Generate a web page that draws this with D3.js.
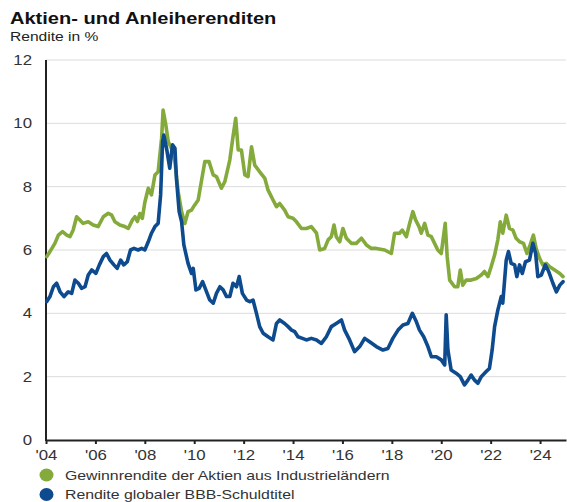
<!DOCTYPE html>
<html>
<head>
<meta charset="utf-8">
<script src="https://cdn.jsdelivr.net/npm/d3@7"></script>
<style>
  html, body { margin: 0; padding: 0; background: #ffffff; }
  svg { display: block; }
  text { font-family: "Liberation Sans", Arial, Helvetica, sans-serif; }
</style>
</head>
<body>
<svg id="chart" width="567" height="502"></svg>
<script>
// ---------- DATA ----------
const title = "Aktien- und Anleiherenditen";
const subtitle = "Rendite in %";
const seriesNames = ["Gewinnrendite der Aktien aus Industrieländern", "Rendite globaler BBB-Schuldtitel"];
const seriesColors = ["#84aa3c", "#0d4a8e"];

const yTicks = [0, 2, 4, 6, 8, 10, 12];
const xTicks = [2004, 2006, 2008, 2010, 2012, 2014, 2016, 2018, 2020, 2022, 2024];
const xTickLabels = ["'04", "'06", "'08", "'10", "'12", "'14", "'16", "'18", "'20", "'22", "'24"];

// Equity earnings yield, developed markets (decimal years)
const equityYears = [2004.03,2004.16,2004.36,2004.5,2004.67,2004.84,2004.97,2005.1,2005.24,2005.37,2005.5,2005.71,2005.91,2006.11,2006.32,2006.52,2006.66,2006.79,2006.99,2007.19,2007.33,2007.5,2007.6,2007.7,2007.8,2007.9,2008.0,2008.14,2008.27,2008.41,2008.54,2008.68,2008.74,2008.85,2008.95,2009.08,2009.22,2009.35,2009.49,2009.62,2009.75,2009.89,2010.0,2010.16,2010.3,2010.43,2010.6,2010.77,2010.9,2011.1,2011.24,2011.44,2011.57,2011.68,2011.78,2011.91,2012.05,2012.18,2012.32,2012.45,2012.65,2012.86,2012.99,2013.19,2013.33,2013.46,2013.66,2013.8,2014.0,2014.14,2014.34,2014.54,2014.74,2014.95,2015.08,2015.28,2015.42,2015.55,2015.66,2015.75,2015.89,2016.02,2016.16,2016.36,2016.56,2016.77,2016.97,2017.17,2017.37,2017.71,2017.98,2018.11,2018.31,2018.42,2018.59,2018.72,2018.85,2018.96,2019.1,2019.19,2019.33,2019.46,2019.6,2019.73,2019.86,2020.0,2020.16,2020.24,2020.34,2020.54,2020.67,2020.77,2020.87,2021.01,2021.21,2021.42,2021.62,2021.75,2021.89,2022.02,2022.16,2022.29,2022.39,2022.49,2022.63,2022.76,2022.9,2023.03,2023.17,2023.33,2023.47,2023.6,2023.73,2023.84,2023.98,2024.11,2024.25,2024.39,2024.59,2024.8,2024.93];
const equityYield = [5.79,5.95,6.21,6.47,6.58,6.47,6.42,6.63,7.05,6.95,6.84,6.89,6.79,6.74,7.05,7.16,7.1,6.89,6.79,6.74,6.68,6.95,7.05,6.9,7.15,7.0,7.5,7.95,7.74,8.37,8.47,9.53,10.42,9.95,9.42,9.21,8.79,7.84,7.21,6.84,7.21,7.26,7.4,7.58,8.21,8.79,8.79,8.37,8.32,7.95,8.16,8.84,9.58,10.16,9.16,9.16,8.37,8.32,9.26,8.68,8.47,8.26,7.89,7.58,7.37,7.47,7.26,7.05,7.0,6.89,6.68,6.68,6.74,6.53,6.0,6.05,6.32,6.42,6.79,6.42,6.26,6.68,6.37,6.21,6.21,6.37,6.16,6.05,6.05,6.0,5.89,6.53,6.53,6.63,6.42,6.84,7.21,6.95,6.74,6.53,6.84,6.47,6.42,6.21,6.0,5.89,6.84,5.79,5.05,4.84,4.84,5.37,4.89,5.05,5.05,5.1,5.21,5.32,5.16,5.47,5.84,6.32,6.89,6.53,7.1,6.68,6.63,6.37,6.26,6.21,5.89,6.16,6.47,6.05,5.74,5.53,5.58,5.47,5.37,5.26,5.16];

// Global BBB corporate bond yield (decimal years)
const bondYears = [2004.03,2004.16,2004.3,2004.43,2004.57,2004.73,2004.9,2005.04,2005.17,2005.31,2005.44,2005.58,2005.71,2005.85,2006.02,2006.16,2006.32,2006.45,2006.59,2006.75,2006.88,2007.02,2007.15,2007.29,2007.42,2007.56,2007.73,2007.87,2008.0,2008.14,2008.27,2008.41,2008.54,2008.64,2008.72,2008.77,2008.88,2009.01,2009.12,2009.22,2009.28,2009.39,2009.49,2009.58,2009.75,2009.89,2009.96,2010.07,2010.2,2010.34,2010.5,2010.63,2010.77,2010.9,2011.04,2011.17,2011.31,2011.44,2011.57,2011.71,2011.82,2011.95,2012.12,2012.25,2012.38,2012.52,2012.65,2012.79,2012.99,2013.19,2013.33,2013.46,2013.66,2013.8,2013.94,2014.07,2014.2,2014.38,2014.54,2014.74,2014.95,2015.15,2015.35,2015.55,2015.75,2015.96,2016.09,2016.29,2016.49,2016.7,2016.9,2017.1,2017.37,2017.64,2017.84,2018.04,2018.25,2018.45,2018.65,2018.83,2018.99,2019.12,2019.29,2019.46,2019.6,2019.8,2020.0,2020.14,2020.2,2020.27,2020.4,2020.6,2020.77,2020.94,2021.08,2021.21,2021.35,2021.48,2021.62,2021.82,2021.95,2022.06,2022.16,2022.29,2022.43,2022.49,2022.63,2022.72,2022.83,2022.97,2023.06,2023.17,2023.28,2023.41,2023.57,2023.71,2023.82,2023.91,2024.05,2024.21,2024.35,2024.52,2024.66,2024.8,2024.93];
const bondYield = [4.37,4.53,4.84,4.95,4.68,4.53,4.68,4.63,5.05,4.95,4.79,4.84,5.21,5.37,5.26,5.53,5.79,5.89,5.68,5.53,5.42,5.68,5.53,5.63,6.0,6.05,6.0,6.05,6.0,6.26,6.53,6.74,6.84,7.74,9.42,9.63,9.21,8.58,9.32,9.21,8.26,7.21,6.89,6.16,5.58,5.26,5.42,4.74,4.79,5.0,4.68,4.42,4.32,4.63,4.84,4.74,4.53,4.53,4.95,4.84,5.16,4.63,4.42,4.37,4.42,4.0,3.58,3.37,3.26,3.16,3.68,3.79,3.68,3.58,3.47,3.42,3.26,3.21,3.16,3.21,3.16,3.05,3.26,3.58,3.68,3.79,3.47,3.16,2.79,2.95,3.21,3.1,2.95,2.84,2.89,3.21,3.47,3.63,3.68,4.0,3.74,3.47,3.26,2.95,2.63,2.63,2.53,2.37,3.95,2.84,2.21,2.11,2.0,1.74,1.89,2.05,1.89,1.79,2.0,2.16,2.26,2.84,3.58,4.1,4.53,4.32,5.68,5.95,5.58,5.53,5.16,5.53,5.26,5.63,5.68,6.21,5.89,5.16,5.21,5.53,5.32,4.95,4.68,4.89,5.0];

// ---------- CHART ----------
const svg = d3.select("#chart");
const SX = 1.2; // horizontal text stretch seen in the reference

function stretchedText(sel, x, y) {
  return sel.attr("transform", `translate(${x},${y}) scale(${SX},1)`);
}

const x = d3.scaleLinear().domain([2004, 2025.05]).range([46, 566]);
const y = d3.scaleLinear().domain([0, 12]).range([440, 60]);

// Title & subtitle
stretchedText(svg.append("text"), 10, 24)
  .text(title).attr("font-size", 16.7).attr("font-weight", "bold").attr("fill", "#111");
stretchedText(svg.append("text"), 10, 41)
  .text(subtitle).attr("font-size", 13).attr("fill", "#222");

// Gridlines
svg.append("g")
  .selectAll("line")
  .data(yTicks.filter(d => d > 0))
  .join("line")
  .attr("x1", x(2004)).attr("x2", x(2025.05))
  .attr("y1", d => y(d)).attr("y2", d => y(d))
  .attr("stroke", "#dcdcdc").attr("stroke-width", 1);

// Y tick labels
svg.append("g")
  .selectAll("text")
  .data(yTicks)
  .join("text")
  .each(function(d) { stretchedText(d3.select(this), 32, y(d)); })
  .attr("text-anchor", "end")
  .attr("dy", "0.36em")
  .attr("font-size", 14)
  .attr("fill", "#333")
  .text(d => d);

// X axis via d3.axisBottom
const xAxis = d3.axisBottom(x)
  .tickValues(xTicks)
  .tickFormat((d, i) => xTickLabels[i])
  .tickSize(4)
  .tickSizeOuter(0);
const gx = svg.append("g").attr("transform", `translate(0,${y(0)})`).call(xAxis);
gx.select(".domain").attr("stroke", "#222").attr("stroke-width", 2);
gx.selectAll(".tick line").attr("stroke", "#222").attr("stroke-width", 2);
gx.selectAll(".tick text")
  .attr("font-size", 14)
  .attr("fill", "#333")
  .attr("font-family", "Liberation Sans, Arial, sans-serif")
  .attr("y", 0).attr("dy", 0)
  .attr("transform", `translate(0,20) scale(${SX},1)`);

// Y axis line
svg.append("line")
  .attr("x1", x(2004)).attr("x2", x(2004))
  .attr("y1", y(12)).attr("y2", y(0) + 1)
  .attr("stroke", "#222").attr("stroke-width", 2);

// Lines
const equity = equityYears.map((d, i) => [d, equityYield[i]]);
const bond = bondYears.map((d, i) => [d, bondYield[i]]);
const line = d3.line().x(d => x(d[0])).y(d => y(d[1]));

svg.append("path").datum(equity)
  .attr("d", line).attr("fill", "none")
  .attr("stroke", seriesColors[0]).attr("stroke-width", 3.6)
  .attr("stroke-linejoin", "round").attr("stroke-linecap", "round");
svg.append("path").datum(bond)
  .attr("d", line).attr("fill", "none")
  .attr("stroke", seriesColors[1]).attr("stroke-width", 3.6)
  .attr("stroke-linejoin", "round").attr("stroke-linecap", "round");

// Legend
const legend = svg.append("g");
seriesNames.forEach((name, i) => {
  const cy = 475 + i * 19.5;
  legend.append("ellipse")
    .attr("cx", 46.5).attr("cy", cy).attr("rx", 7).attr("ry", 6.5)
    .attr("fill", seriesColors[i]);
  stretchedText(legend.append("text"), 65, cy + 4.5)
    .text(name).attr("font-size", 13.2).attr("fill", "#333");
});
</script>
</body>
</html>
